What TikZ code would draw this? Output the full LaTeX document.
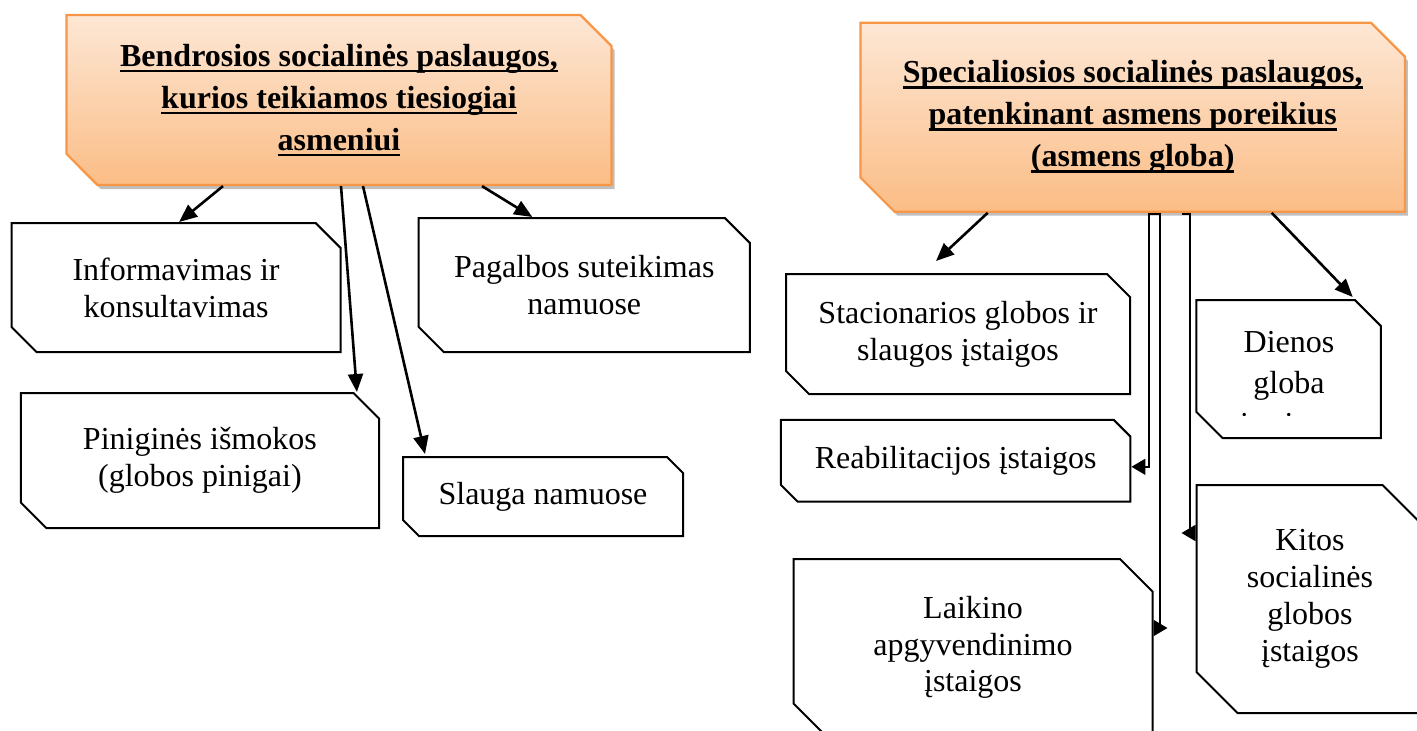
\documentclass[tikz,border=0pt]{standalone}
\usepackage{fontspec}
\setmainfont{Liberation Serif}
\usetikzlibrary{shapes.misc,arrows.meta,shadows}

\definecolor{hdrborder}{HTML}{F79646}
\definecolor{hdrtop}{HTML}{FDE7D5}
\definecolor{hdrbottom}{HTML}{FBBD86}

\newcommand{\hdrul}[1]{\setbox0=\hbox{#1}\rlap{\rule[-6pt]{\wd0}{2.4pt}}\box0}

\tikzset{
    box/.style={chamfered rectangle, chamfered rectangle corners={north east,south west},
        draw, line width=2pt, inner sep=0pt, align=center,
        font=\fontsize{32}{36.8}\selectfont},
    header/.style={box, draw=hdrborder, line width=2.2pt, top color=hdrtop, bottom color=hdrbottom,
        drop shadow={shadow xshift=3pt, shadow yshift=-4pt, opacity=0.25, fill=black},
        font=\fontsize{32}{42}\selectfont\bfseries},
    link/.style={line width=2.6pt, -{Triangle[length=18pt,width=15pt]}},
    elbow/.style={line width=1.8pt},
}

\begin{document}
\begin{tikzpicture}[x=1pt,y=-1pt]
    \useasboundingbox (0,0) rectangle (1417,731);
    \clip (0,0) rectangle (1417,731);

    \node[header, minimum width=545pt, minimum height=170pt, chamfered rectangle xsep=28pt] (hdrL) at (339,100)
        {\hdrul{Bendrosios socialinės paslaugos,}\\ \hdrul{kurios teikiamos tiesiogiai}\\ \hdrul{asmeniui}};
    \node[header, minimum width=544.5pt, minimum height=189pt, chamfered rectangle xsep=31pt] (hdrR) at (1132.7,117.2)
        {\hdrul{Specialiosios socialinės paslaugos,}\\ \hdrul{patenkinant asmens poreikius}\\ \hdrul{(asmens globa)}};

    \node[box, minimum width=329.2pt, minimum height=129pt, chamfered rectangle xsep=22pt] (info) at (176.1,287.5)
        {Informavimas ir\\konsultavimas};
    \node[box, minimum width=331.3pt, minimum height=134pt, chamfered rectangle xsep=22pt] (pagalba) at (584.3,285)
        {Pagalbos suteikimas\\namuose};
    \node[box, minimum width=358.3pt, minimum height=135pt, chamfered rectangle xsep=22.5pt] (pinig) at (199.9,460.5)
        {Piniginės išmokos\\(globos pinigai)};
    \node[box, minimum width=280pt, minimum height=79pt, chamfered rectangle xsep=13pt] (slauga) at (543,496.5)
        {Slauga namuose};

    \node[box, minimum width=344pt, minimum height=120pt, chamfered rectangle xsep=20pt] (stac) at (958,334)
        {Stacionarios globos ir\\slaugos įstaigos};
    \node[box, minimum width=349.5pt, minimum height=81.7pt, chamfered rectangle xsep=13.6pt] (reab) at (955.7,460.8)
        {Reabilitacijos įstaigos};
    \node[box, minimum width=359pt, minimum height=177pt, chamfered rectangle xsep=29.5pt] (laik) at (973,647.5)
        {Laikino\\apgyvendinimo\\įstaigos};
    \node[box, minimum width=184.5pt, minimum height=138pt, chamfered rectangle xsep=23pt] (dien) at (1288.7,369)
        {\phantom{Dienos}\\\phantom{globa}};
    \begin{scope}
        \clip (1190,300) rectangle (1390,415);
        \node[font=\fontsize{32}{41}\selectfont, align=center, anchor=north, inner sep=0pt] (dientxt) at (1289,331)
            {Dienos\\globa\\įstaigos};
    \end{scope}
    \node[box, minimum width=227pt, minimum height=228pt, chamfered rectangle xsep=38pt] (kitos) at (1310,599)
        {Kitos\\socialinės\\globos\\įstaigos};

    \draw[link] ([xshift=-116pt]hdrL.south) -- ([xshift=3pt]info.north);
    \draw[link] ([xshift=2pt]hdrL.south) -- ([xshift=157pt]pinig.north);
    \draw[link] ([xshift=24pt]hdrL.south) -- ([xshift=-118pt,yshift=2pt]slauga.north);
    \draw[link] ([xshift=143pt]hdrL.south) -- ([xshift=-52pt]pagalba.north);

    \draw[link] ([xshift=-145pt]hdrR.south) -- ([xshift=-22pt,yshift=12pt]stac.north);
    \draw[link] ([xshift=139pt]hdrR.south) -- ([xshift=64pt,yshift=2pt]dien.north);
    \draw[elbow, -{Triangle[length=14pt,width=16pt]}] ([xshift=28pt,yshift=-1pt]hdrR.south)
        -- ++(-12,0) |- ([yshift=-6pt]reab.east);
    \draw[elbow, -{Triangle[reversed,length=14pt,width=16pt]}] ([xshift=27pt,yshift=-1pt]hdrR.south)
        |- ([yshift=19.5pt]laik.east);
    \draw[elbow, -{Triangle[reversed,length=14pt,width=16pt]}] ([xshift=49pt,yshift=-1pt]hdrR.south)
        -- ++(8,0) |- ([yshift=66pt]kitos.west);
\end{tikzpicture}
\end{document}
